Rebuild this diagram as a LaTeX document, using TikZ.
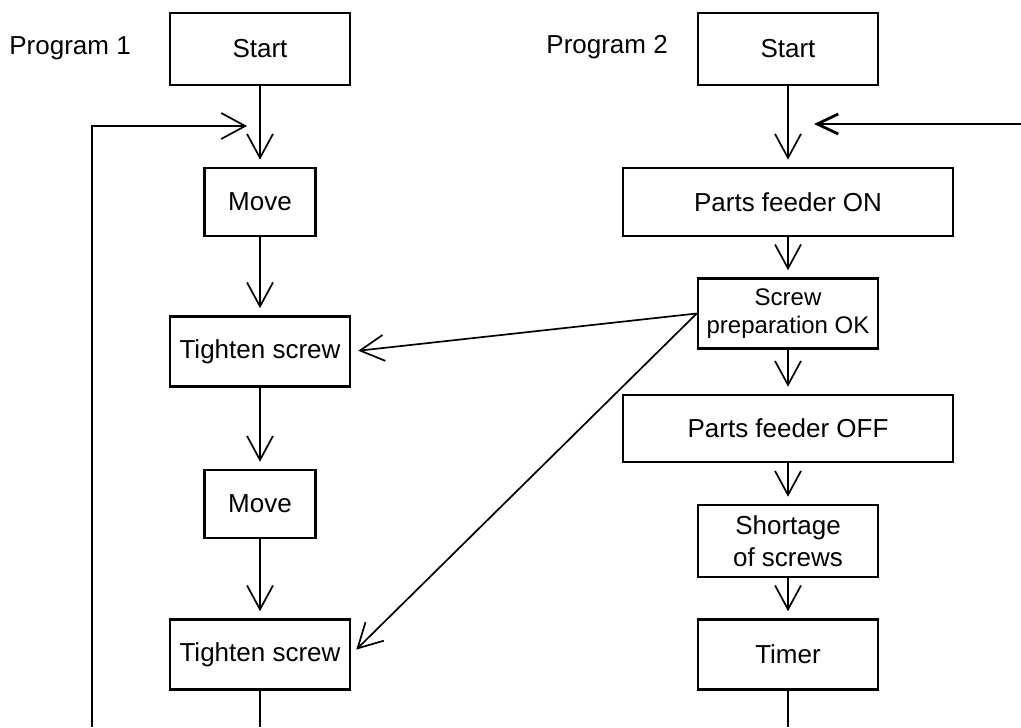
\documentclass[tikz,border=0pt]{standalone}
\usepackage{fontspec}
\setmainfont{Liberation Sans}
\usetikzlibrary{arrows.meta,positioning}

\begin{document}
\begin{tikzpicture}[
    x=0.5pt, y=-0.5pt,
    box/.style={rectangle, draw, line width=1.3pt, minimum width=90pt, minimum height=35pt, align=center, inner sep=0pt, font=\fontsize{13}{16}\selectfont},
    lbl/.style={inner sep=0pt, font=\fontsize{13}{16}\selectfont},
    arrow/.style={-{Straight Barb[length=12pt,width=13pt]}, line width=0.85pt, shorten >=3.5pt},
    line/.style={line width=0.85pt}
]
    \useasboundingbox (0,0) rectangle (1021,727);

    % Program 1
    \node[lbl, anchor=base west] (prog1) at (9,55) {Program 1};
    \node[box, minimum height=36pt] (start1) at (260,49) {Start};
    \node[box, minimum width=55.5pt, minimum height=34pt] (move1) at (260,202) {Move};
    \node[box] (tight1) at (260,351.5) {Tighten screw};
    \node[box, minimum width=55.5pt, minimum height=34pt] (move2) at (260,504) {Move};
    \node[box] (tight2) at (260,654.5) {Tighten screw};

    % Program 2
    \node[lbl, anchor=base west] (prog2) at (546,54) {Program 2};
    \node[box, minimum height=36pt] (start2) at (788,49) {Start};
    \node[box, minimum width=165pt, minimum height=34pt] (feedon) at (788,202) {Parts feeder ON};
    \node[box, font=\fontsize{12}{14}\selectfont] (prep) at (788,313.5) {Screw\\preparation OK};
    \node[box, minimum width=165pt, minimum height=33.5pt] (feedoff) at (788,428.5) {Parts feeder OFF};
    \node[box, minimum height=36pt] (short) at (788,541) {Shortage\\of screws};
    \node[box] (timer) at (788,654.5) {Timer};

    \coordinate (loop) at (92,727);
    \coordinate (in1) at (260,126);
    \coordinate (out1) at (260,727);
    \coordinate (right) at (1021,124);
    \coordinate (in2) at (788,124);
    \coordinate (out2) at (788,727);

    \draw[arrow] (start1) -- (move1);
    \draw[arrow] (move1) -- (tight1);
    \draw[arrow] (tight1) -- (move2);
    \draw[arrow] (move2) -- (tight2);
    \draw[line] (tight2) -- (out1);
    \draw[arrow, shorten >=6.5pt] (loop) |- (in1);

    \draw[arrow] (start2) -- (feedon);
    \draw[arrow] (feedon) -- (prep);
    \draw[arrow] (prep) -- (feedoff);
    \draw[arrow] (feedoff) -- (short);
    \draw[arrow] (short) -- (timer);
    \draw[line] (timer) -- (out2);
    \draw[-{Straight Barb[length=10.5pt,width=10pt]}, line width=1.4pt, shorten >=13pt] (right) -- (in2);

    \draw[arrow] (prep.west) -- (tight1.east);
    \draw[arrow] (prep.west) -- (tight2.east);
\end{tikzpicture}
\end{document}
